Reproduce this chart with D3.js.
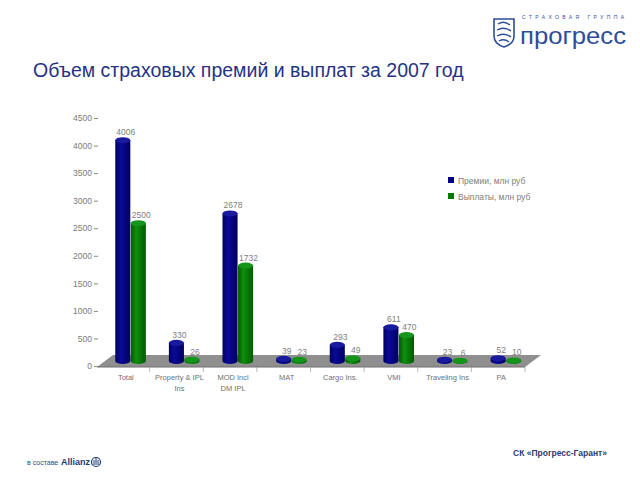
<!DOCTYPE html>
<html><head><meta charset="utf-8">
<script src="https://cdn.jsdelivr.net/npm/d3@7/dist/d3.min.js"></script>
<style>body{margin:0;background:#fff}svg{display:block}</style>
</head><body>
<script>
const categories = ["Total", "Property & IPL|Ins", "MOD  Incl|DM IPL", "MAT", "Cargo Ins.", "VMI", "Traveling Ins", "PA"];
const premiums = [4006, 330, 2678, 39, 293, 611, 23, 52];
const payouts = [2500, 26, 1732, 23, 49, 470, 6, 10];
const seriesNames = ["Премии, млн руб", "Выплаты, млн руб"];
const yTicks = [0, 500, 1000, 1500, 2000, 2500, 3000, 3500, 4000, 4500];
const title = "Объем страховых премий и выплат за 2007 год";

const W = 640, H = 480;
const svg = d3.select("body").append("svg").attr("width", W).attr("height", H)
  .style("font-family", "'Liberation Sans', Arial, sans-serif");
const defs = svg.append("defs");
function cylGrad(id, dark, light) {
  const g = defs.append("linearGradient").attr("id", id).attr("x1", "0").attr("x2", "1");
  g.append("stop").attr("offset", "0").attr("stop-color", dark);
  g.append("stop").attr("offset", "0.35").attr("stop-color", light);
  g.append("stop").attr("offset", "1").attr("stop-color", dark);
}
cylGrad("gBlue", "#00005e", "#0a0a9a");
cylGrad("gGreen", "#005a00", "#0f8f0f");
const colors = ["#000080", "#007a00"];
const tops = ["#1a1a9e", "#14941a"];

// Title
svg.append("text").attr("x", 33).attr("y", 77).attr("font-size", 19.5)
  .attr("fill", "#263383").text(title);

const y = d3.scaleLinear().domain([0, 4500]).range([366, 118]);
const depth = 5;
const x0 = d3.scaleBand().domain(d3.range(categories.length)).range([104, 533])
  .paddingInner(0.42).paddingOuter(0.21);
const x1 = d3.scaleBand().domain([0, 1]).range([0, x0.bandwidth()]);

// floor
const fl = [[97, 367], [113, 355], [541, 355], [525, 367]];
svg.append("path").attr("d", d3.line()(fl) + "Z").attr("fill", "#8f8f8f");
svg.append("line").attr("x1", 97).attr("x2", 525).attr("y1", 367).attr("y2", 367).attr("stroke", "#6f6f6f");
const seps = d3.range(categories.length + 1).map(i => x0.range()[0] + i * x0.step() - 8);
svg.selectAll(".sep").data(seps.slice(1)).join("line")
  .attr("x1", d => d).attr("x2", d => d).attr("y1", 367).attr("y2", 372)
  .attr("stroke", "#999").attr("stroke-width", 0.7);

// y axis
const ax = svg.append("g").attr("transform", "translate(98,0)")
  .call(d3.axisLeft(y).tickValues(yTicks).tickFormat(d3.format("d")).tickSize(4).tickPadding(2));
ax.select(".domain").remove();
ax.selectAll("line").attr("stroke", "#888");
ax.selectAll("text").attr("fill", "#7a7a7a").attr("font-size", 8.5);

// bars
const ry = 3;
const groups = svg.selectAll(".grp").data(categories).join("g")
  .attr("transform", (d, i) => `translate(${x0(i)},0)`);
[premiums, payouts].forEach((vals, s) => {
  groups.each(function(d, i) {
    const g = d3.select(this);
    const v = vals[i];
    const bx = x1(s), bw = x1.bandwidth() - 0.5;
    const yt = y(v) - depth, yb = y(0) - depth;
    g.append("path")
      .attr("d", `M${bx},${yt} L${bx},${yb} A${bw/2},${ry} 0 0 0 ${bx+bw},${yb} L${bx+bw},${yt} Z`)
      .attr("fill", `url(#${s === 0 ? "gBlue" : "gGreen"})`);
    g.append("ellipse").attr("cx", bx + bw / 2).attr("cy", yt).attr("rx", bw / 2).attr("ry", ry)
      .attr("fill", tops[s]);
    g.append("text").attr("x", bx + bw / 2 + 3).attr("y", yt - 5)
      .attr("text-anchor", "middle").attr("font-size", 8.5).attr("fill", "#808080").text(v);
  });
});

// category labels
groups.each(function(d, i) {
  const lines = d.split("|");
  const t = d3.select(this).append("text").attr("text-anchor", "middle")
    .attr("font-size", 7.5).attr("fill", "#707070");
  lines.forEach((l, k) => t.append("tspan").attr("x", x0.bandwidth() / 2 - 5).attr("y", 380 + k * 11).text(l));
});

// legend
seriesNames.forEach((n, i) => {
  svg.append("rect").attr("x", 448).attr("y", 177 + i * 16).attr("width", 6).attr("height", 6).attr("fill", colors[i]);
  svg.append("text").attr("x", 458).attr("y", 183.5 + i * 16).attr("font-size", 8.5).attr("fill", "#808080").text(n);
});

// logo top right
const logo = svg.append("g");
logo.append("path").attr("d", "M494,19 L514,19 L514,36 Q514,44 504,47 Q494,44 494,36 Z")
  .attr("fill", "none").attr("stroke", "#2e4d9a").attr("stroke-width", 1.6);
logo.append("path").attr("d", "M498,24 Q504,20 510,25 M497,30 Q504,26 511,31 M497,36 Q504,32 511,37 M499,41 Q504,38 509,42")
  .attr("fill", "none").attr("stroke", "#2e4d9a").attr("stroke-width", 1.3);
logo.append("text").attr("x", 522).attr("y", 19).attr("font-size", 5).attr("letter-spacing", 3.4)
  .attr("fill", "#2e4d9a").text("СТРАХОВАЯ ГРУППА");
logo.append("text").attr("x", 520).attr("y", 44).attr("font-size", 24).attr("fill", "#2e4d9a")
  .attr("textLength", 106).attr("lengthAdjust", "spacingAndGlyphs").text("прогресс");

// bottom
svg.append("text").attr("x", 27).attr("y", 465).attr("font-size", 7).attr("fill", "#2a4a8a").text("в составе");
svg.append("text").attr("x", 61).attr("y", 465).attr("font-size", 9).attr("font-weight", "bold").attr("fill", "#1a3a7a").text("Allianz");
svg.append("circle").attr("cx", 96).attr("cy", 462).attr("r", 4.5).attr("fill", "none").attr("stroke", "#1a3a7a").attr("stroke-width", 1.2);
svg.append("path").attr("d", "M94,465 L94,460 M96,465 L96,458 M98,465 L98,460").attr("stroke", "#1a3a7a").attr("stroke-width", 1);
svg.append("text").attr("x", 607).attr("y", 456).attr("text-anchor", "end").attr("font-size", 8.5)
  .attr("font-weight", "bold").attr("fill", "#2a3a70").text("СК «Прогресс-Гарант»");
</script>
</body></html>
